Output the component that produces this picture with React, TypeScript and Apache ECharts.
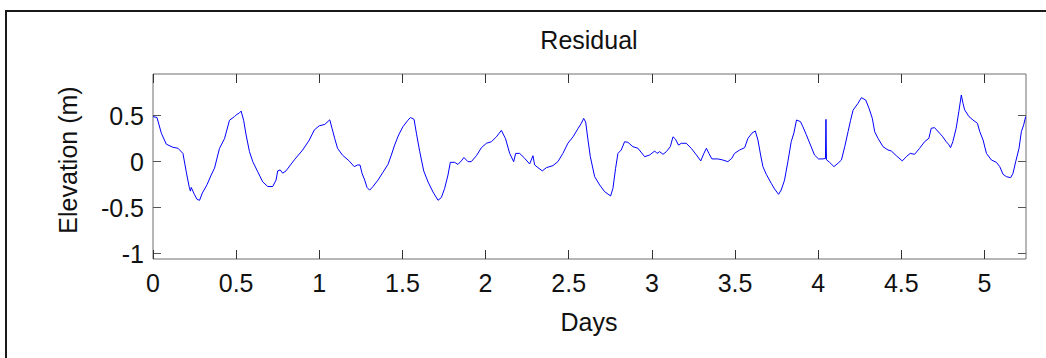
import React, { useEffect, useRef } from "react";
import * as echarts from "echarts";

const days: number[] = [
  0, 0.024, 0.05, 0.08, 0.12, 0.15, 0.18, 0.2, 0.217, 0.225, 0.23, 0.25, 0.265, 0.28, 0.297, 0.325, 0.35, 0.37, 0.4, 0.43,
  0.46, 0.49, 0.505, 0.517, 0.53, 0.545, 0.56, 0.58, 0.6, 0.63, 0.66, 0.69, 0.72, 0.74, 0.75, 0.765, 0.78, 0.8, 0.85, 0.9,
  0.94, 0.97, 1.0, 1.033, 1.063, 1.077, 1.093, 1.11, 1.14, 1.18, 1.21, 1.23, 1.245, 1.257, 1.273, 1.287, 1.303, 1.323, 1.353, 1.383,
  1.413, 1.433, 1.453, 1.477, 1.503, 1.533, 1.548, 1.57, 1.584, 1.604, 1.628, 1.654, 1.684, 1.714, 1.734, 1.754, 1.774, 1.788, 1.814, 1.834,
  1.854, 1.87, 1.894, 1.914, 1.945, 1.975, 2.005, 2.035, 2.065, 2.095, 2.12, 2.145, 2.169, 2.181, 2.205, 2.235, 2.265, 2.285, 2.295, 2.315,
  2.341, 2.366, 2.405, 2.435, 2.465, 2.495, 2.526, 2.556, 2.576, 2.59, 2.602, 2.616, 2.63, 2.656, 2.686, 2.716, 2.752, 2.766, 2.782, 2.796,
  2.816, 2.836, 2.856, 2.886, 2.916, 2.957, 2.987, 3.017, 3.031, 3.047, 3.067, 3.087, 3.111, 3.127, 3.142, 3.16, 3.177, 3.207, 3.237, 3.268,
  3.294, 3.313, 3.328, 3.343, 3.361, 3.397, 3.427, 3.457, 3.481, 3.497, 3.528, 3.558, 3.578, 3.602, 3.622, 3.638, 3.654, 3.668, 3.688, 3.718,
  3.738, 3.762, 3.778, 3.798, 3.818, 3.838, 3.854, 3.87, 3.894, 3.908, 3.928, 3.954, 3.978, 4.002, 4.028, 4.044, 4.047, 4.05,
  4.069, 4.095, 4.119, 4.14, 4.16, 4.18, 4.195, 4.21, 4.24, 4.26, 4.286, 4.306, 4.326, 4.34, 4.36, 4.39, 4.42, 4.44, 4.47, 4.506,
  4.53, 4.554, 4.58, 4.61, 4.64, 4.666, 4.68, 4.7, 4.73, 4.75, 4.77, 4.784, 4.796, 4.81, 4.83, 4.846, 4.861, 4.871, 4.881, 4.907,
  4.931, 4.958, 4.972, 4.992, 5.012, 5.042, 5.072, 5.092, 5.112, 5.132, 5.158, 5.172, 5.188, 5.208, 5.222, 5.236, 5.248,
];

const elevation: number[] = [
  0.49, 0.48, 0.31, 0.19, 0.156, 0.146, 0.09, -0.11, -0.27, -0.32, -0.28, -0.36, -0.41, -0.42, -0.34, -0.25, -0.145, -0.07, 0.145, 0.25,
  0.45, 0.49, 0.515, 0.525, 0.55, 0.45, 0.29, 0.11, 0.0, -0.11, -0.22, -0.27, -0.27, -0.2, -0.1, -0.09, -0.125, -0.1, 0.02, 0.127,
  0.235, 0.345, 0.39, 0.405, 0.455, 0.36, 0.25, 0.145, 0.07, 0.008, -0.054, -0.036, -0.036, -0.126, -0.2, -0.28, -0.31, -0.27, -0.2, -0.115,
  -0.03, 0.07, 0.18, 0.29, 0.38, 0.45, 0.48, 0.46, 0.31, 0.11, -0.1, -0.22, -0.33, -0.42, -0.39, -0.29, -0.145, -0.007, -0.007, -0.03,
  0.008, 0.045, 0.0, 0.0, 0.065, 0.152, 0.2, 0.217, 0.27, 0.34, 0.25, 0.09, 0.0, 0.09, 0.09, 0.037, -0.025, 0.065, -0.036, -0.065,
  -0.1, -0.065, -0.043, 0.0, 0.09, 0.2, 0.27, 0.36, 0.417, 0.47, 0.43, 0.235, 0.054, -0.163, -0.253, -0.326, -0.373, -0.29, -0.072, 0.09,
  0.127, 0.217, 0.21, 0.163, 0.146, 0.054, 0.073, 0.116, 0.09, 0.109, 0.08, 0.109, 0.163, 0.27, 0.245, 0.18, 0.2, 0.2, 0.145, 0.073,
  0.008, 0.09, 0.146, 0.09, 0.03, 0.03, 0.018, 0.0, 0.037, 0.09, 0.127, 0.152, 0.254, 0.31, 0.334, 0.235, 0.073, -0.054, -0.137, -0.235,
  -0.297, -0.355, -0.308, -0.2, 0.0, 0.217, 0.31, 0.453, 0.435, 0.38, 0.297, 0.18, 0.073, 0.03, 0.03, 0.035, 0.46, 0.02,
  -0.007, -0.054, -0.018, 0.018, 0.163, 0.326, 0.45, 0.56, 0.635, 0.696, 0.67, 0.58, 0.47, 0.326, 0.254, 0.163, 0.127, 0.116, 0.065, 0.008,
  0.054, 0.09, 0.08, 0.145, 0.217, 0.254, 0.363, 0.37, 0.31, 0.27, 0.217, 0.19, 0.152, 0.217, 0.363, 0.543, 0.725, 0.635, 0.563, 0.49,
  0.453, 0.417, 0.326, 0.235, 0.09, 0.018, -0.007, -0.054, -0.137, -0.163, -0.174, -0.126, 0.0, 0.145, 0.326, 0.4, 0.49,
];

const xTicks: number[] = [0, 0.5, 1, 1.5, 2, 2.5, 3, 3.5, 4, 4.5, 5];
const yTicks: number[] = [-1, -0.5, 0, 0.5];

const titleText = "Residual";
const xName = "Days";
const yName = "Elevation (m)";

const FONT = 'Arial, "Liberation Sans", sans-serif';

export default function App() {
  const ref = useRef<HTMLDivElement>(null);

  useEffect(() => {
    if (!ref.current) return;
    const chart = echarts.init(ref.current, undefined, { renderer: "svg" });
    const data = days.map((d, i) => [d, elevation[i]]);
    const fmt = (v: number) => String(v);
    const xCommon = {
      type: "value" as const,
      min: 0,
      max: 5.25,
      splitLine: { show: false },
      axisLine: { show: false, onZero: false },
    };
    const yCommon = {
      type: "value" as const,
      min: -1.058,
      max: 0.953,
      splitLine: { show: false },
      axisLine: { show: false, onZero: false },
    };
    chart.setOption({
      animation: false,
      backgroundColor: "#ffffff",
      grid: {
        left: 153,
        top: 74,
        right: 20,
        bottom: 99,
        show: true,
        borderColor: "#6e6e6e",
        borderWidth: 1,
        backgroundColor: "transparent",
      },
      xAxis: [
        {
          ...xCommon,
          position: "bottom",
          axisTick: { show: true, inside: true, length: 9, customValues: xTicks, lineStyle: { color: "#333", width: 1 } },
          axisLabel: {
            show: true,
            customValues: xTicks,
            formatter: fmt,
            fontSize: 25,
            fontFamily: FONT,
            color: "#111",
            margin: 11,
          },
        },
        {
          ...xCommon,
          position: "top",
          axisTick: { show: true, inside: true, length: 9, customValues: xTicks, lineStyle: { color: "#333", width: 1 } },
          axisLabel: { show: false },
        },
      ],
      yAxis: [
        {
          ...yCommon,
          position: "left",
          axisTick: { show: true, inside: true, length: 8, customValues: yTicks, lineStyle: { color: "#555", width: 1 } },
          axisLabel: {
            show: true,
            customValues: yTicks,
            formatter: fmt,
            fontSize: 25,
            fontFamily: FONT,
            color: "#111",
            margin: 9,
          },
        },
        {
          ...yCommon,
          position: "right",
          axisTick: { show: true, inside: true, length: 8, customValues: yTicks, lineStyle: { color: "#555", width: 1 } },
          axisLabel: { show: false },
        },
      ],
      series: [
        {
          type: "line",
          data,
          showSymbol: false,
          symbol: "none",
          lineStyle: { color: "#0000ff", width: 1 },
          xAxisIndex: 0,
          yAxisIndex: 0,
        },
      ],
      graphic: [
        {
          type: "polyline",
          shape: { points: [[6, 358], [6, 11], [1046, 11]] },
          style: { stroke: "#1a1a1a", lineWidth: 2, fill: "none" },
          silent: true,
        },
        {
          type: "text",
          x: 589,
          y: 40,
          style: { text: titleText, fontSize: 25, fontFamily: FONT, fill: "#111", align: "center", verticalAlign: "middle" },
        },
        {
          type: "text",
          x: 589,
          y: 322,
          style: { text: xName, fontSize: 25, fontFamily: FONT, fill: "#111", align: "center", verticalAlign: "middle" },
        },
        {
          type: "text",
          x: 68,
          y: 160,
          rotation: Math.PI / 2,
          style: { text: yName, fontSize: 25, fontFamily: FONT, fill: "#111", align: "center", verticalAlign: "middle" },
        },
      ],
    });
    return () => chart.dispose();
  }, []);

  return (
    <div
      ref={ref}
      style={{ position: "fixed", left: 0, top: 0, width: 1046, height: 358, background: "#fff" }}
    />
  );
}
